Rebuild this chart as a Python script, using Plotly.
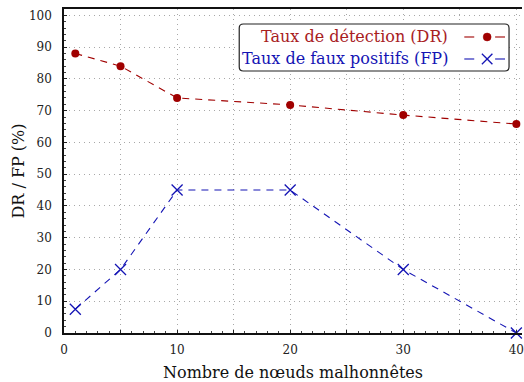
import plotly.graph_objects as go

# Number of malicious nodes
nodes = [1, 5, 10, 20, 30, 40]
# Detection rate (%)
detection_rate = [88, 84, 74, 71.8, 68.6, 65.8]
# False positive rate (%)
false_positive = [7.5, 20, 45, 45, 20, 0]

x_ticks = [0, 5, 10, 15, 20, 25, 30, 35, 40]
x_ticktext = ["0", "", "10", "", "20", "", "30", "", "40"]

RED = "#a00000"
RED_TXT = "#a8201e"
BLUE = "#1414b4"
SERIF = "DejaVu Serif"

fig = go.Figure()

fig.add_trace(go.Scatter(
    x=nodes, y=detection_rate, mode="lines+markers",
    line=dict(color=RED, width=1.1, dash="7px,6px"),
    marker=dict(symbol="circle", size=8, color=RED),
    showlegend=False, cliponaxis=False,
))
fig.add_trace(go.Scatter(
    x=nodes, y=false_positive, mode="lines+markers",
    line=dict(color=BLUE, width=1.1, dash="7px,6px"),
    marker=dict(symbol="x-thin", size=11, line=dict(color=BLUE, width=1.3)),
    showlegend=False, cliponaxis=False,
))

# Hand-built legend in plot-area domain coordinates (0..1)
dom = dict(xref="x domain", yref="y domain", layer="above")
x0, x1, y0, y1 = 0.3826, 0.9717, 0.8086, 0.9537
rx, ry = 0.009, 0.0125
path = (f"M {x0+rx},{y0} L {x1-rx},{y0} Q {x1},{y0} {x1},{y0+ry} "
        f"L {x1},{y1-ry} Q {x1},{y1} {x1-rx},{y1} L {x0+rx},{y1} "
        f"Q {x0},{y1} {x0},{y1-ry} L {x0},{y0+ry} Q {x0},{y0} {x0+rx},{y0} Z")
fig.add_shape(type="path", path=path, line=dict(color="#222222", width=1.2),
              fillcolor="white", **dom)

row_y = [0.9136, 0.8457]
seg_a = (0.874, 0.8957)
seg_b = (0.9413, 0.963)
mark_x = 0.9239
for yy, color in [(row_y[0], RED), (row_y[1], BLUE)]:
    for sx0, sx1 in (seg_a, seg_b):
        fig.add_shape(type="line", x0=sx0, x1=sx1, y0=yy, y1=yy,
                      line=dict(color=color, width=1.1), **dom)

# circle key for DR
cx, cy = 0.0087, 0.0123
fig.add_shape(type="circle", x0=mark_x - cx, x1=mark_x + cx,
              y0=row_y[0] - cy, y1=row_y[0] + cy,
              line=dict(color=RED, width=0.5), fillcolor=RED, **dom)
# cross key for FP
hx, hy = 0.0115, 0.0162
for s in (1, -1):
    fig.add_shape(type="line", x0=mark_x - hx, x1=mark_x + hx,
                  y0=row_y[1] - s * hy, y1=row_y[1] + s * hy,
                  line=dict(color=BLUE, width=1.3), **dom)

fig.add_annotation(x=0.8435, y=row_y[0], xref="x domain", yref="y domain",
                   text="Taux de détection (DR)", showarrow=False,
                   xanchor="right", yanchor="middle",
                   font=dict(family=SERIF, size=16, color=RED_TXT))
fig.add_annotation(x=0.8435, y=row_y[1], xref="x domain", yref="y domain",
                   text="Taux de faux positifs (FP)", showarrow=False,
                   xanchor="right", yanchor="middle",
                   font=dict(family=SERIF, size=16, color=BLUE))

grid = dict(showgrid=True, gridcolor="#a8a8a8", griddash="1px,4px", gridwidth=1)

fig.update_layout(
    width=524, height=382,
    margin=dict(l=64, r=0, t=9, b=49),
    paper_bgcolor="white", plot_bgcolor="white",
    font=dict(family=SERIF, color="#222222"),
    xaxis=dict(
        range=[0, 40.5], tickvals=x_ticks, ticktext=x_ticktext,
        showline=True, linecolor="#111111", linewidth=1.5, mirror=True,
        ticks="inside", ticklen=3, tickcolor="#222222",
        minor=dict(dtick=1, ticks="inside", ticklen=2, tickcolor="#444444", showgrid=False),
        tickfont=dict(family=SERIF, size=12, color="#222222"),
        ticklabelstandoff=5, ticklabeloverflow="allow",
        title=dict(text="Nombre de nœuds malhonnêtes", font=dict(family=SERIF, size=16, color="#111111"),
                   standoff=11),
        zeroline=False, **grid,
    ),
    yaxis=dict(
        range=[0, 102], dtick=10,
        showline=True, linecolor="#111111", linewidth=1.5, mirror=False,
        ticks="inside", ticklen=3, tickcolor="#222222",
        minor=dict(dtick=2, ticks="inside", ticklen=2, tickcolor="#444444", showgrid=False),
        tickfont=dict(family=SERIF, size=12, color="#222222"),
        ticklabelstandoff=8,
        title=dict(text="DR / FP (%)", font=dict(family=SERIF, size=16, color="#111111"),
                   standoff=0),
        zeroline=False, **grid,
    ),
)

fig.write_html("out.html")
